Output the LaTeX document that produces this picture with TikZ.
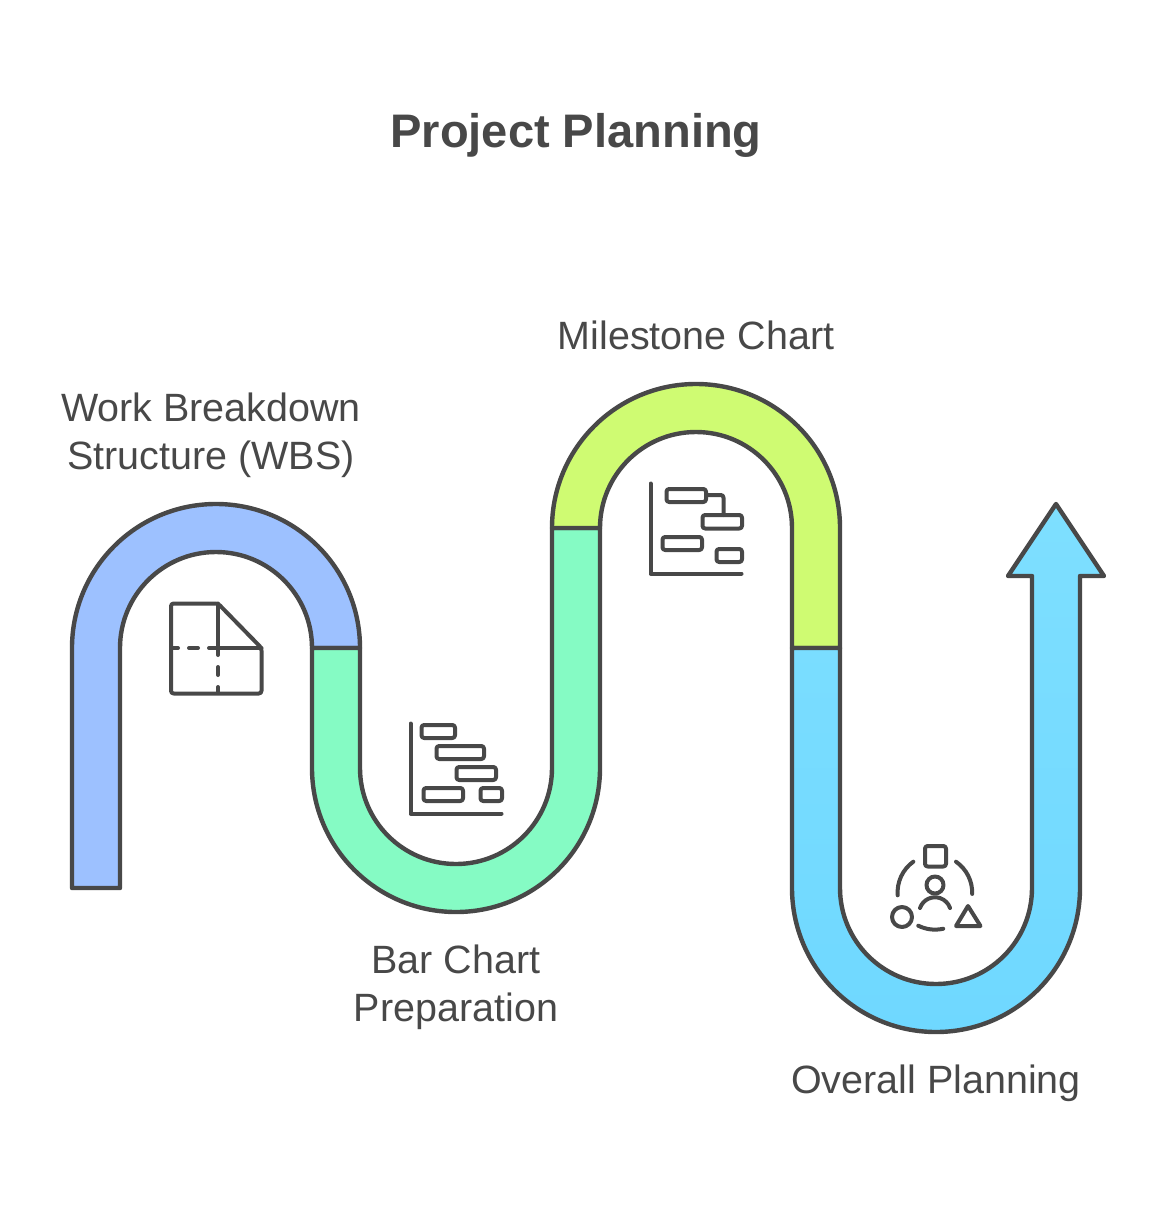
\documentclass[tikz,border=0pt]{standalone}
\usepackage{fontspec}
\setmainfont{Liberation Sans}
\definecolor{wbsblue}{HTML}{9DC1FF}
\definecolor{barmint}{HTML}{85FBC4}
\definecolor{milelime}{HTML}{CFFB72}
\definecolor{plancyan}{HTML}{7EDFFF}
\definecolor{plancyanmid}{HTML}{7CDEFF}
\definecolor{plancyandeep}{HTML}{6FD8FF}
\definecolor{inkgray}{HTML}{484848}
\tikzset{
  band/.style={draw=inkgray,line width=3.3pt,line join=round},
  icon/.style={draw=inkgray,line width=3pt,line cap=round,line join=round},
  bar/.style={icon,rounded corners=2pt},
  stagelabel/.style={text=inkgray,font=\fontsize{29.6}{36}\selectfont,align=center},
}
\begin{document}
\begin{tikzpicture}[x=0.75pt,y=-0.75pt]
\useasboundingbox (0,0) rectangle (1152,1221);
% title
\node[text=inkgray,font=\fontsize{35.3}{42}\selectfont\bfseries] (title) at (576,135) {Project Planning};
% bands
\draw[band,fill=wbsblue] (72,888)--(72,648) arc[start angle=180,end angle=360,radius=144]
  --(312,648) arc[start angle=360,end angle=180,radius=96]--(120,888)--cycle;
\draw[band,fill=barmint] (312,648)--(360,648)--(360,768) arc[start angle=180,end angle=0,radius=96]
  --(552,528)--(600,528)--(600,768) arc[start angle=0,end angle=180,radius=144]--cycle;
\draw[band,fill=milelime] (552,528) arc[start angle=180,end angle=360,radius=144]
  --(840,648)--(792,648)--(792,528) arc[start angle=360,end angle=180,radius=96]--cycle;
\draw[band,top color=plancyan,middle color=plancyanmid,bottom color=plancyandeep] (792,648)--(840,648)--(840,888) arc[start angle=180,end angle=0,radius=96]
  --(1032,576)--(1008,576)--(1056,504)--(1104,576)--(1080,576)--(1080,888)
  arc[start angle=0,end angle=180,radius=144]--cycle;
% icon wbs
\draw[bar] (218,603.5)--(171,603.5)--(171,693.5)--(261.5,693.5)--(261.5,648)--cycle;
\draw[icon] (218,603.5)--(218,648)--(261.5,648);
\draw[icon] (218,648)--(209,648);
\draw[icon] (198,648)--(189,648);
\draw[icon] (178,648)--(173,648);
\draw[icon] (218,648)--(218,655);
\draw[icon] (218,667)--(218,675);
\draw[icon] (218,687)--(218,693);
% icon bar chart
\draw[icon] (410.5,723.5)--(410.5,813.5)--(501.5,813.5);
\draw[bar] (421.5,725) rectangle (455,738);
\draw[bar] (436.5,746) rectangle (484,759);
\draw[bar] (456.5,767) rectangle (496,780);
\draw[bar] (423.5,788) rectangle (463,801);
\draw[bar] (480.5,788) rectangle (502,801);
% icon milestone chart
\draw[icon] (650.5,483.5)--(650.5,573.5)--(741.5,573.5);
\draw[bar] (666.5,489) rectangle (706,502);
\draw[bar] (702.5,515) rectangle (742,528.5);
\draw[bar] (662.5,537) rectangle (702,550);
\draw[bar] (716.5,549) rectangle (742,562);
\draw[bar] (706,495)--(723.5,495)--(723.5,515);
% icon planning
\draw[bar] (925,846) rectangle (946,866.5);
\draw[icon] (935,885) circle[radius=8.5];
\draw[icon] (920,908) arc[start angle=199,end angle=341,radius=15.9];
\draw[icon] (902,917) circle[radius=10];
\draw[icon] (968,906)--(956,926)--(980.5,926)--cycle;
\draw[icon] (913.3,861.7) arc[start angle=234.4,end angle=175.4,radius=37.6];
\draw[icon] (956,861.7) arc[start angle=-55.3,end angle=2,radius=37.6];
\draw[icon] (918.3,925.7) arc[start angle=116.4,end angle=77.4,radius=37.6];
% labels
\node[stagelabel] (wbs) at (211,435) {Work Breakdown\\Structure (WBS)};
\node[stagelabel] (barchart) at (456,987) {Bar Chart\\Preparation};
\node[stagelabel] (milestone) at (696,335.5) {Milestone Chart};
\node[stagelabel] (planning) at (936,1083) {Overall Planning};
\end{tikzpicture}
\end{document}
